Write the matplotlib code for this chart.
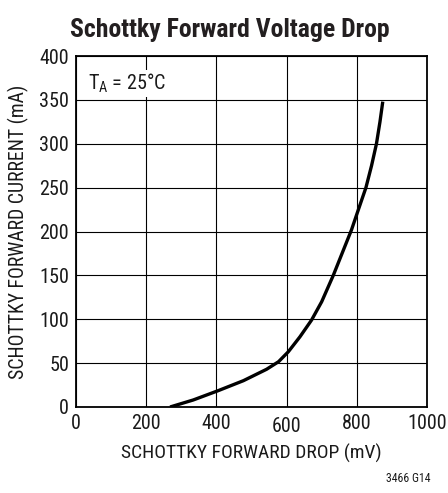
import matplotlib.transforms as mtransforms
from matplotlib import pyplot as plt

# forward drop (mV) vs current (mA)
drop_mv = [268, 334, 405, 477, 543, 577, 605, 638, 671, 700, 733, 762, 785, 802, 826, 842, 856, 866, 874]
current_ma = [0, 8, 18.6, 30, 43, 51.6, 63, 80, 99, 120, 150, 179, 202, 222, 250, 275, 300, 325, 348]
x_ticks = [0, 200, 400, 600, 800, 1000]
y_ticks = [0, 50, 100, 150, 200, 250, 300, 350, 400]

FONT = "Roboto Condensed"
plt.rcParams["font.family"] = [FONT, "DejaVu Sans"]
plt.rcParams["mathtext.fontset"] = "custom"
plt.rcParams["mathtext.rm"] = FONT

W, H = 448, 493
fig = plt.figure(figsize=(W / 100, H / 100), dpi=100)
ax = fig.add_axes([76 / W, 1 - 407 / H, 351 / W, 351 / H])

ax.plot(drop_mv, current_ma, color="black", lw=2.4, solid_capstyle="butt",
        solid_joinstyle="round")

ax.set_xlim(0, 1000)
ax.set_ylim(0, 400)
ax.set_xticks(x_ticks)
ax.set_yticks(y_ticks)
ax.tick_params(length=0, labelsize=14.5, pad=5, colors="#1a1a1a")
ax.grid(True, color="black", lw=0.8)
for s in ax.spines.values():
    s.set_linewidth(1.3)

# the "600" label sits a little lower in the original
lab600 = ax.get_xticklabels()[3]
lab600.set_transform(lab600.get_transform() +
                     mtransforms.ScaledTranslation(0, -3 / 100, fig.dpi_scale_trans))

ax.set_xlabel("SCHOTTKY FORWARD DROP (mV)", fontsize=14, color="#1a1a1a", labelpad=6)
ax.set_ylabel("SCHOTTKY FORWARD CURRENT (mA)", fontsize=14.2, color="#1a1a1a", labelpad=7)

ax.text(0.035, 0.955, r"T$_\mathrm{A}$ = 25°C", transform=ax.transAxes, fontsize=14.5,
        va="top", ha="left", color="#1a1a1a",
        bbox=dict(facecolor="white", edgecolor="none", pad=1.5))

fig.text(230 / W, 1 - 30 / H, "Schottky Forward Voltage Drop", fontsize=18.5,
         fontweight="bold", ha="center", va="center", color="#231f20")
fig.text(430 / W, 1 - 478 / H, "3466 G14", fontsize=8.5, ha="right", va="center",
         color="#1a1a1a")

fig.savefig("out.png", dpi=100)
